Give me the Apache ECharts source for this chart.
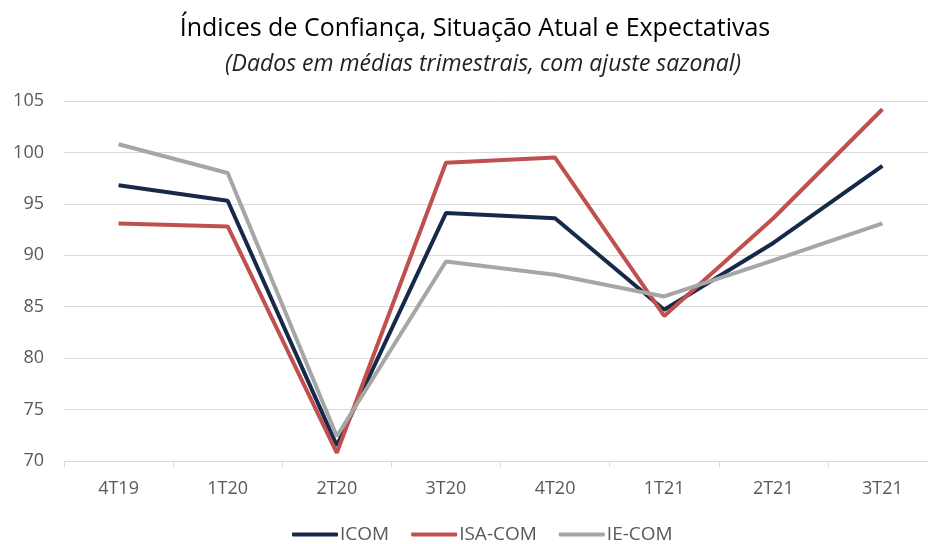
<!DOCTYPE html>
<html>
<head>
<meta charset="utf-8">
<script src="https://cdn.jsdelivr.net/npm/echarts@6/dist/echarts.min.js"></script>
<style>
  html, body { margin: 0; padding: 0; background: #fff; overflow: hidden; }
  #chart { width: 940px; height: 544px; }
</style>
</head>
<body>
<div id="chart"></div>
<script>
const quarters = ["4T19", "1T20", "2T20", "3T20", "4T20", "1T21", "2T21", "3T21"];
const icom = [96.8, 95.3, 71.5, 94.1, 93.6, 84.7, 91.2, 98.7];
const isaCom = [93.1, 92.8, 70.8, 99.0, 99.5, 84.1, 93.6, 104.2];
const ieCom = [100.8, 98.0, 72.4, 89.4, 88.1, 86.0, 89.5, 93.1];

const chart = echarts.init(document.getElementById("chart"));

const lineSeries = (name, data, color) => ({
  name,
  type: "line",
  data,
  symbol: "none",
  lineStyle: { width: 4, color },
  itemStyle: { color },
});

chart.setOption({
  animation: false,
  title: [
    {
      text: "Índices de Confiança, Situação Atual e Expectativas",
      left: 470,
      top: 11,
      textAlign: "center",
      textStyle: { fontFamily: "Open Sans", fontSize: 25, fontWeight: "normal", color: "#000" },
    },
    {
      text: "(Dados em médias trimestrais, com ajuste sazonal)",
      left: 478,
      top: 48,
      textAlign: "center",
      textStyle: { fontFamily: "Open Sans", fontSize: 23, fontStyle: "italic", fontWeight: "normal", color: "#222" },
    },
  ],
  legend: {
    top: 520,
    left: 287,
    itemWidth: 46,
    itemHeight: 4,
    itemGap: 22,
    icon: "roundRect",
    textStyle: { fontFamily: "Open Sans", fontSize: 19, color: "#595959", padding: [0, 0, 0, -3] },
  },
  grid: { left: 64, right: 3, top: 101, bottom: 83 },
  xAxis: {
    type: "category",
    data: quarters,
    boundaryGap: true,
    axisLine: { lineStyle: { color: "#d9d9d9", width: 1 } },
    axisTick: { show: true, length: 6, lineStyle: { color: "#d9d9d9" } },
    axisLabel: { fontFamily: "Open Sans", fontSize: 18, color: "#595959", margin: 19 },
  },
  yAxis: {
    type: "value",
    min: 70,
    max: 105,
    interval: 5,
    axisLine: { show: false },
    axisTick: { show: false },
    splitLine: { lineStyle: { color: "#d9d9d9", width: 1 } },
    axisLabel: { fontFamily: "Open Sans", fontSize: 18, color: "#595959", margin: 20 },
  },
  series: [
    lineSeries("ICOM", icom, "#17294a"),
    lineSeries("ISA-COM", isaCom, "#c0504d"),
    lineSeries("IE-COM", ieCom, "#a6a6a6"),
  ],
});
</script>
</body>
</html>
